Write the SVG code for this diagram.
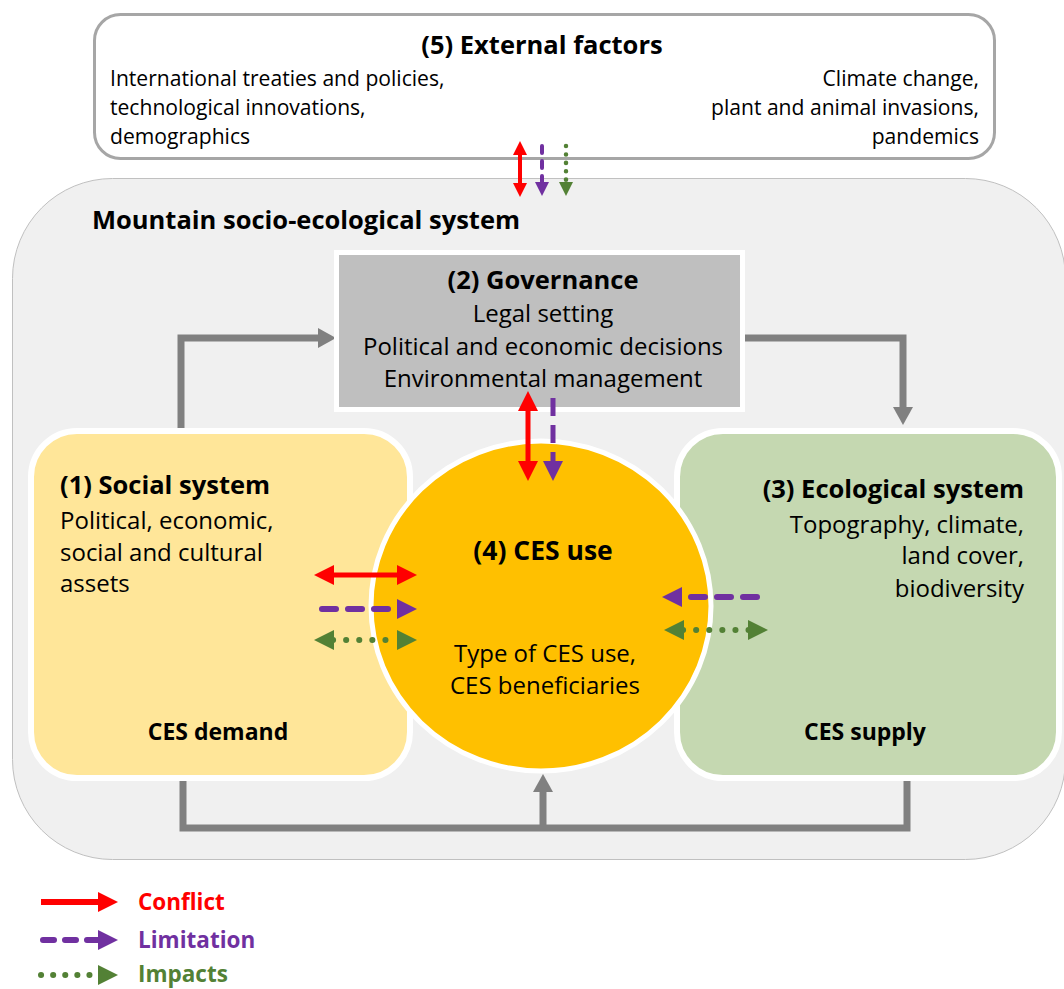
<svg xmlns="http://www.w3.org/2000/svg" width="1064" height="989" viewBox="0 0 1064 989">
<style>
text{font-family:"Open Sans","Liberation Sans",sans-serif;fill:#000}
.b{font-weight:bold}
.h{font-weight:bold;font-size:25.5px}
.t{font-size:21.1px}
.m{font-size:24px}
.f{font-weight:bold;font-size:23px}
.l{font-weight:bold;font-size:22.5px}
.gray{stroke:#808080;stroke-width:7;fill:none;stroke-linejoin:miter}
.red{stroke:#ff0000;fill:none}
.pur{stroke:#7030a0;fill:none}
.grn{stroke:#538135;fill:none;stroke-linecap:round}
</style>
<defs>
<marker id="gA" markerUnits="userSpaceOnUse" markerWidth="18" markerHeight="20" refX="1" refY="10" orient="auto"><path d="M0,0L18,10L0,20z" fill="#808080"/></marker>
<marker id="rB" markerUnits="userSpaceOnUse" markerWidth="20" markerHeight="20" refX="1" refY="10" orient="auto-start-reverse"><path d="M0,0L20,10L0,20z" fill="#ff0000"/></marker>
<marker id="pB" markerUnits="userSpaceOnUse" markerWidth="20" markerHeight="20" refX="1" refY="10" orient="auto-start-reverse"><path d="M0,0L20,10L0,20z" fill="#7030a0"/></marker>
<marker id="gB" markerUnits="userSpaceOnUse" markerWidth="20" markerHeight="20" refX="1" refY="10" orient="auto-start-reverse"><path d="M0,0L20,10L0,20z" fill="#538135"/></marker>
<marker id="rS" markerUnits="userSpaceOnUse" markerWidth="14" markerHeight="14" refX="1" refY="7" orient="auto-start-reverse"><path d="M0,0L14,7L0,14z" fill="#ff0000"/></marker>
<marker id="pS" markerUnits="userSpaceOnUse" markerWidth="14" markerHeight="14" refX="1" refY="7" orient="auto-start-reverse"><path d="M0,0L14,7L0,14z" fill="#7030a0"/></marker>
<marker id="gS" markerUnits="userSpaceOnUse" markerWidth="14" markerHeight="14" refX="1" refY="7" orient="auto-start-reverse"><path d="M0,0L14,7L0,14z" fill="#538135"/></marker>
</defs>

<g id="external">
<rect x="94.5" y="14.5" width="900" height="144" rx="26" fill="#fff" stroke="#a6a6a6" stroke-width="3"/>
<text x="542" y="54" text-anchor="middle" class="h">(5) External factors</text>
<text class="t" x="110" y="86">International treaties and policies,</text>
<text class="t" x="110" y="115">technological innovations,</text>
<text class="t" x="110" y="144">demographics</text>
<text class="t" x="979" y="86" text-anchor="end">Climate change,</text>
<text class="t" x="979" y="115" text-anchor="end">plant and animal invasions,</text>
<text class="t" x="979" y="144" text-anchor="end">pandemics</text>
</g>

<g id="system">
<rect x="12.5" y="178.5" width="1053" height="681" rx="100" fill="#f0f0f0" stroke="#c0c0c0" stroke-width="1"/>
<text x="92" y="229" class="h">Mountain socio-ecological system</text>
</g>

<g id="connectors">
<path class="gray" d="M181,431L181,338L319,338" marker-end="url(#gA)"/>
<path class="gray" d="M744,338L903,338L903,408" marker-end="url(#gA)"/>
<path class="gray" d="M183,781L183,828L907,828L907,781"/>
<path class="gray" d="M543,828L543,791" stroke-width="6" marker-end="url(#gA)"/>
</g>

<g id="governance">
<rect x="336.5" y="252.5" width="406" height="157" fill="#bfbfbf" stroke="#fff" stroke-width="5"/>
<text x="543" y="289" text-anchor="middle" class="h">(2) Governance</text>
<text x="543" y="322" text-anchor="middle" class="m">Legal setting</text>
<text x="543" y="355" text-anchor="middle" class="m">Political and economic decisions</text>
<text x="543" y="387" text-anchor="middle" class="m">Environmental management</text>
</g>

<g id="social">
<rect x="31" y="431" width="379" height="347" rx="46" fill="#ffe699" stroke="#fff" stroke-width="6"/>
<text x="60" y="494" class="h">(1) Social system</text>
<text x="60" y="529" class="m">Political, economic,</text>
<text x="60" y="561" class="m">social and cultural</text>
<text x="60" y="592" class="m">assets</text>
<text x="218" y="740" text-anchor="middle" class="f">CES demand</text>
</g>

<g id="ecological">
<rect x="677" y="431" width="382" height="347" rx="46" fill="#c5d8b1" stroke="#fff" stroke-width="6"/>
<text x="1024" y="498" text-anchor="end" class="h">(3) Ecological system</text>
<text x="1024" y="533" text-anchor="end" class="m">Topography, climate,</text>
<text x="1024" y="564" text-anchor="end" class="m">land cover,</text>
<text x="1024" y="597" text-anchor="end" class="m">biodiversity</text>
<text x="865" y="740" text-anchor="middle" class="f">CES supply</text>
</g>

<g id="ces-use">
<ellipse cx="541" cy="606" rx="170" ry="165" fill="#ffc000" stroke="#fff" stroke-width="5"/>
<text x="543" y="560" text-anchor="middle" class="h" style="font-size:26.5px">(4) CES use</text>
<text x="545" y="662" text-anchor="middle" class="m">Type of CES use,</text>
<text x="545" y="694" text-anchor="middle" class="m">CES beneficiaries</text>
</g>

<g id="interactions">
<path class="red" stroke-width="4" d="M520,154L520,184" marker-start="url(#rS)" marker-end="url(#rS)"/>
<path class="pur" stroke-width="4" stroke-linecap="round" stroke-dasharray="7 8" d="M542,146L542,183" marker-end="url(#pS)"/>
<path class="grn" stroke-width="4.5" stroke-dasharray="0.1 8.3" d="M566,146L566,183" marker-end="url(#gS)"/>

<path class="red" stroke-width="5" d="M528,410L528,462" marker-start="url(#rB)" marker-end="url(#rB)"/>
<path class="pur" stroke-width="5" stroke-dasharray="18 9" d="M553,398L553,462" marker-end="url(#pB)"/>

<path class="red" stroke-width="5" d="M333,575L398,575" marker-start="url(#rB)" marker-end="url(#rB)"/>
<path class="pur" stroke-width="6" stroke-linecap="round" stroke-dasharray="14 12" d="M322,609L398,609" marker-end="url(#pB)"/>
<path class="grn" stroke-width="6" stroke-dasharray="0.1 13" d="M333,640L398,640" marker-start="url(#gB)" marker-end="url(#gB)"/>

<path class="pur" stroke-width="6" stroke-linecap="round" stroke-dasharray="14 12" d="M757,597L681,597" marker-end="url(#pB)"/>
<path class="grn" stroke-width="6" stroke-dasharray="0.1 13" d="M683,630L749,630" marker-start="url(#gB)" marker-end="url(#gB)"/>
</g>

<g id="legend">
<path class="red" stroke-width="6" d="M41,902L99,902" marker-end="url(#rB)"/>
<path class="pur" stroke-width="6" stroke-linecap="round" stroke-dasharray="11 11" d="M43,940L99,940" marker-end="url(#pB)"/>
<path class="grn" stroke-width="6" stroke-dasharray="0.1 12" d="M41,975L99,975" marker-end="url(#gB)"/>
<text x="138" y="910" class="l" style="fill:#ff0000">Conflict</text>
<text x="138" y="948" class="l" style="fill:#7030a0">Limitation</text>
<text x="138" y="982" class="l" style="fill:#538135">Impacts</text>
</g>
</svg>
